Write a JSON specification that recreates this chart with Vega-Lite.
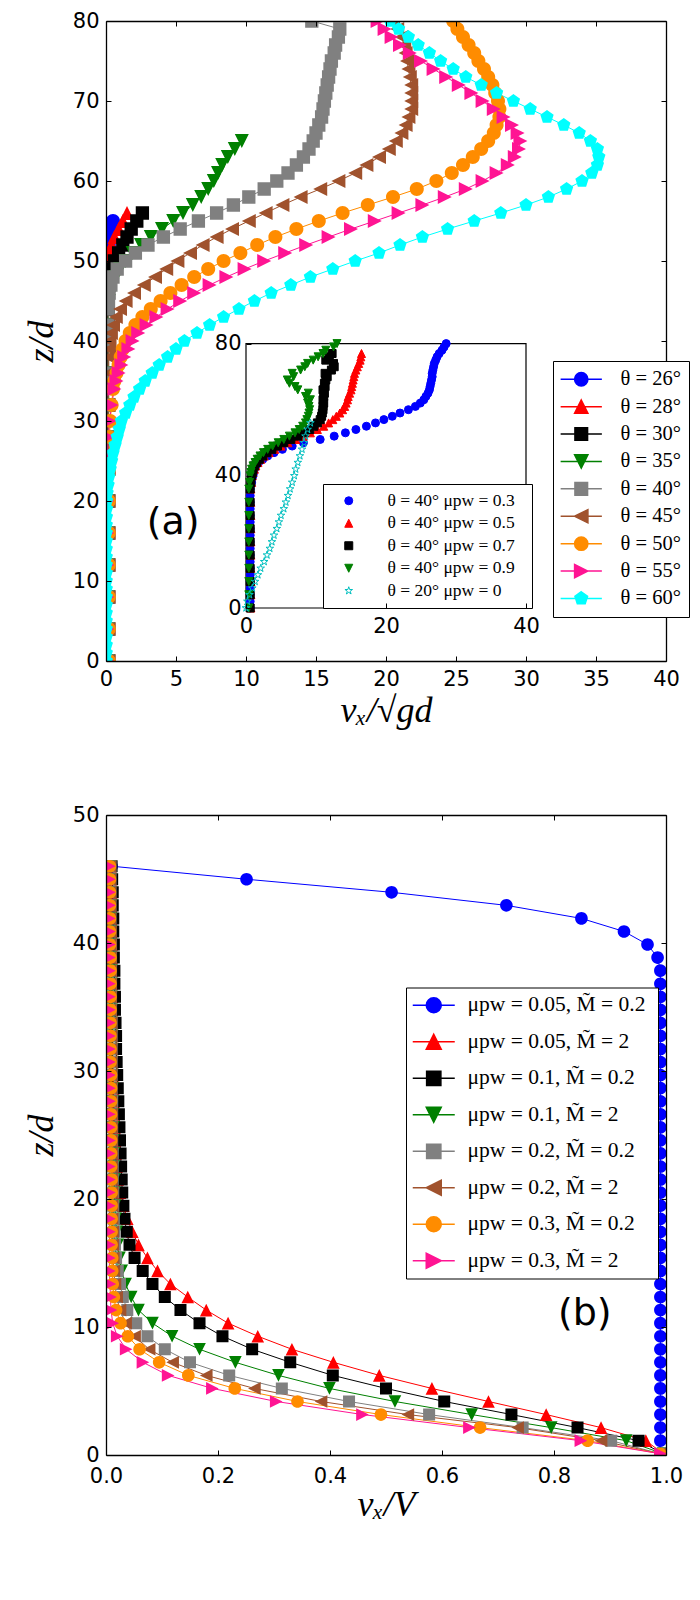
{
  "$schema": "https://vega.github.io/schema/vega-lite/v6.json",
  "background": "white",
  "padding": {"left": 23, "top": 10, "right": 0, "bottom": 0},
  "spacing": 76,
  "datasets": {
    "top": [
      {"s":"26","v":0.1,"z":0},{"s":"26","v":0.1,"z":4},{"s":"26","v":0.1,"z":8},{"s":"26","v":0.1,"z":12},{"s":"26","v":0.1,"z":16},{"s":"26","v":0.1,"z":20},{"s":"26","v":0.1,"z":24},{"s":"26","v":0.1,"z":28},{"s":"26","v":0.1,"z":32},{"s":"26","v":0.1,"z":36},{"s":"26","v":0.1,"z":40},{"s":"26","v":0.1,"z":44},{"s":"26","v":0.1,"z":46},{"s":"26","v":0.1,"z":48},{"s":"26","v":0.1,"z":49},{"s":"26","v":0.12,"z":50},{"s":"26","v":0.15,"z":51},{"s":"26","v":0.2,"z":52},{"s":"26","v":0.25,"z":53},{"s":"26","v":0.35,"z":54},{"s":"26","v":0.5,"z":55},
      {"s":"28","v":0.12,"z":0},{"s":"28","v":0.12,"z":4},{"s":"28","v":0.12,"z":8},{"s":"28","v":0.12,"z":12},{"s":"28","v":0.12,"z":16},{"s":"28","v":0.12,"z":20},{"s":"28","v":0.12,"z":24},{"s":"28","v":0.12,"z":28},{"s":"28","v":0.12,"z":32},{"s":"28","v":0.12,"z":36},{"s":"28","v":0.12,"z":40},{"s":"28","v":0.12,"z":44},{"s":"28","v":0.12,"z":46},{"s":"28","v":0.13,"z":48},{"s":"28","v":0.13,"z":49},{"s":"28","v":0.15,"z":50},{"s":"28","v":0.25,"z":51},{"s":"28","v":0.4,"z":52},{"s":"28","v":0.6,"z":53},{"s":"28","v":0.9,"z":54},{"s":"28","v":1.2,"z":55},{"s":"28","v":1.5,"z":56},
      {"s":"30","v":0.15,"z":0},{"s":"30","v":0.15,"z":4},{"s":"30","v":0.15,"z":8},{"s":"30","v":0.15,"z":12},{"s":"30","v":0.15,"z":16},{"s":"30","v":0.15,"z":20},{"s":"30","v":0.15,"z":24},{"s":"30","v":0.15,"z":28},{"s":"30","v":0.15,"z":32},{"s":"30","v":0.15,"z":36},{"s":"30","v":0.15,"z":40},{"s":"30","v":0.15,"z":42},{"s":"30","v":0.15,"z":44},{"s":"30","v":0.15,"z":45},{"s":"30","v":0.18,"z":46},{"s":"30","v":0.22,"z":47},{"s":"30","v":0.3,"z":48},{"s":"30","v":0.4,"z":49},{"s":"30","v":0.6,"z":50},{"s":"30","v":0.9,"z":51},{"s":"30","v":1.2,"z":52},{"s":"30","v":1.5,"z":53},{"s":"30","v":1.8,"z":54},{"s":"30","v":2.2,"z":55},{"s":"30","v":2.6,"z":56},
      {"s":"35","v":0.15,"z":0},{"s":"35","v":0.15,"z":4},{"s":"35","v":0.15,"z":8},{"s":"35","v":0.15,"z":12},{"s":"35","v":0.15,"z":16},{"s":"35","v":0.15,"z":20},{"s":"35","v":0.15,"z":24},{"s":"35","v":0.15,"z":28},{"s":"35","v":0.15,"z":32},{"s":"35","v":0.15,"z":36},{"s":"35","v":0.15,"z":40},{"s":"35","v":0.15,"z":42},{"s":"35","v":0.15,"z":44},{"s":"35","v":0.2,"z":45},{"s":"35","v":0.25,"z":46},{"s":"35","v":0.45,"z":47},{"s":"35","v":0.7,"z":48},{"s":"35","v":1.0,"z":49},{"s":"35","v":1.4,"z":50},{"s":"35","v":1.9,"z":51},{"s":"35","v":2.5,"z":52},{"s":"35","v":3.2,"z":53},{"s":"35","v":4.0,"z":54},{"s":"35","v":4.8,"z":55},{"s":"35","v":5.5,"z":56},{"s":"35","v":6.2,"z":57},{"s":"35","v":6.8,"z":58},{"s":"35","v":7.3,"z":59},{"s":"35","v":7.7,"z":60},{"s":"35","v":8.0,"z":61},{"s":"35","v":8.3,"z":62},{"s":"35","v":8.7,"z":63},{"s":"35","v":9.2,"z":64},{"s":"35","v":9.7,"z":65},
      {"s":"40","v":0.15,"z":0},{"s":"40","v":0.15,"z":4},{"s":"40","v":0.15,"z":8},{"s":"40","v":0.15,"z":12},{"s":"40","v":0.15,"z":16},{"s":"40","v":0.15,"z":20},{"s":"40","v":0.15,"z":24},{"s":"40","v":0.15,"z":28},{"s":"40","v":0.15,"z":32},{"s":"40","v":0.15,"z":36},{"s":"40","v":0.15,"z":40},{"s":"40","v":0.15,"z":42},{"s":"40","v":0.16,"z":44},{"s":"40","v":0.18,"z":45},{"s":"40","v":0.22,"z":46},{"s":"40","v":0.35,"z":47},{"s":"40","v":0.5,"z":48},{"s":"40","v":0.8,"z":49},{"s":"40","v":1.4,"z":50},{"s":"40","v":2.1,"z":51},{"s":"40","v":3.0,"z":52},{"s":"40","v":4.1,"z":53},{"s":"40","v":5.3,"z":54},{"s":"40","v":6.6,"z":55},{"s":"40","v":7.9,"z":56},{"s":"40","v":9.1,"z":57},{"s":"40","v":10.2,"z":58},{"s":"40","v":11.3,"z":59},{"s":"40","v":12.2,"z":60},{"s":"40","v":13.0,"z":61},{"s":"40","v":13.6,"z":62},{"s":"40","v":14.1,"z":63},{"s":"40","v":14.5,"z":64},{"s":"40","v":14.8,"z":65},{"s":"40","v":15.0,"z":66},{"s":"40","v":15.2,"z":67},{"s":"40","v":15.4,"z":68},{"s":"40","v":15.5,"z":69},{"s":"40","v":15.6,"z":70},{"s":"40","v":15.7,"z":71},{"s":"40","v":15.8,"z":72},{"s":"40","v":15.9,"z":73},{"s":"40","v":16.0,"z":74},{"s":"40","v":16.1,"z":75},{"s":"40","v":16.3,"z":76},{"s":"40","v":16.4,"z":77},{"s":"40","v":16.6,"z":78},{"s":"40","v":16.7,"z":79},{"s":"40","v":14.7,"z":80},
      {"s":"45","v":0.2,"z":0},{"s":"45","v":0.2,"z":4},{"s":"45","v":0.2,"z":8},{"s":"45","v":0.2,"z":12},{"s":"45","v":0.2,"z":16},{"s":"45","v":0.2,"z":20},{"s":"45","v":0.2,"z":24},{"s":"45","v":0.2,"z":28},{"s":"45","v":0.2,"z":32},{"s":"45","v":0.2,"z":36},{"s":"45","v":0.2,"z":38},{"s":"45","v":0.22,"z":39},{"s":"45","v":0.25,"z":40},{"s":"45","v":0.35,"z":41},{"s":"45","v":0.5,"z":42},{"s":"45","v":0.7,"z":43},{"s":"45","v":1.0,"z":44},{"s":"45","v":1.4,"z":45},{"s":"45","v":2.0,"z":46},{"s":"45","v":2.7,"z":47},{"s":"45","v":3.5,"z":48},{"s":"45","v":4.3,"z":49},{"s":"45","v":5.1,"z":50},{"s":"45","v":6.0,"z":51},{"s":"45","v":6.9,"z":52},{"s":"45","v":7.9,"z":53},{"s":"45","v":9.0,"z":54},{"s":"45","v":10.2,"z":55},{"s":"45","v":11.4,"z":56},{"s":"45","v":12.6,"z":57},{"s":"45","v":13.9,"z":58},{"s":"45","v":15.3,"z":59},{"s":"45","v":16.6,"z":60},{"s":"45","v":17.8,"z":61},{"s":"45","v":18.6,"z":62},{"s":"45","v":19.5,"z":63},{"s":"45","v":20.2,"z":64},{"s":"45","v":20.7,"z":65},{"s":"45","v":21.1,"z":66},{"s":"45","v":21.4,"z":67},{"s":"45","v":21.6,"z":68},{"s":"45","v":21.8,"z":69},{"s":"45","v":21.8,"z":70},{"s":"45","v":21.8,"z":71},{"s":"45","v":21.8,"z":72},{"s":"45","v":21.7,"z":73},{"s":"45","v":21.6,"z":74},{"s":"45","v":21.5,"z":75},{"s":"45","v":21.4,"z":76},{"s":"45","v":21.3,"z":77},{"s":"45","v":21.1,"z":78},{"s":"45","v":20.8,"z":79},{"s":"45","v":20.5,"z":80},
      {"s":"50","v":0.2,"z":0},{"s":"50","v":0.2,"z":4},{"s":"50","v":0.2,"z":8},{"s":"50","v":0.2,"z":12},{"s":"50","v":0.2,"z":16},{"s":"50","v":0.2,"z":20},{"s":"50","v":0.22,"z":24},{"s":"50","v":0.25,"z":28},{"s":"50","v":0.3,"z":30},{"s":"50","v":0.4,"z":32},{"s":"50","v":0.5,"z":34},{"s":"50","v":0.6,"z":35},{"s":"50","v":0.75,"z":36},{"s":"50","v":0.9,"z":37},{"s":"50","v":1.05,"z":38},{"s":"50","v":1.2,"z":39},{"s":"50","v":1.4,"z":40},{"s":"50","v":1.7,"z":41},{"s":"50","v":2.1,"z":42},{"s":"50","v":2.6,"z":43},{"s":"50","v":3.2,"z":44},{"s":"50","v":3.9,"z":45},{"s":"50","v":4.6,"z":46},{"s":"50","v":5.4,"z":47},{"s":"50","v":6.3,"z":48},{"s":"50","v":7.3,"z":49},{"s":"50","v":8.4,"z":50},{"s":"50","v":9.6,"z":51},{"s":"50","v":10.8,"z":52},{"s":"50","v":12.1,"z":53},{"s":"50","v":13.6,"z":54},{"s":"50","v":15.2,"z":55},{"s":"50","v":16.9,"z":56},{"s":"50","v":18.7,"z":57},{"s":"50","v":20.5,"z":58},{"s":"50","v":22.2,"z":59},{"s":"50","v":23.6,"z":60},{"s":"50","v":24.7,"z":61},{"s":"50","v":25.5,"z":62},{"s":"50","v":26.2,"z":63},{"s":"50","v":26.8,"z":64},{"s":"50","v":27.3,"z":65},{"s":"50","v":27.7,"z":66},{"s":"50","v":27.9,"z":67},{"s":"50","v":28.1,"z":68},{"s":"50","v":28.1,"z":69},{"s":"50","v":28.0,"z":70},{"s":"50","v":27.8,"z":71},{"s":"50","v":27.6,"z":72},{"s":"50","v":27.3,"z":73},{"s":"50","v":27.0,"z":74},{"s":"50","v":26.6,"z":75},{"s":"50","v":26.3,"z":76},{"s":"50","v":25.9,"z":77},{"s":"50","v":25.5,"z":78},{"s":"50","v":25.1,"z":79},{"s":"50","v":24.8,"z":80},
      {"s":"55","v":0.1,"z":0},{"s":"55","v":0.1,"z":4},{"s":"55","v":0.1,"z":8},{"s":"55","v":0.1,"z":12},{"s":"55","v":0.1,"z":16},{"s":"55","v":0.1,"z":20},{"s":"55","v":0.1,"z":24},{"s":"55","v":0.1,"z":26},{"s":"55","v":0.15,"z":28},{"s":"55","v":0.25,"z":30},{"s":"55","v":0.4,"z":32},{"s":"55","v":0.6,"z":34},{"s":"55","v":0.75,"z":35},{"s":"55","v":0.9,"z":36},{"s":"55","v":1.1,"z":37},{"s":"55","v":1.3,"z":38},{"s":"55","v":1.6,"z":39},{"s":"55","v":1.9,"z":40},{"s":"55","v":2.3,"z":41},{"s":"55","v":2.9,"z":42},{"s":"55","v":3.6,"z":43},{"s":"55","v":4.4,"z":44},{"s":"55","v":5.3,"z":45},{"s":"55","v":6.3,"z":46},{"s":"55","v":7.4,"z":47},{"s":"55","v":8.6,"z":48},{"s":"55","v":9.9,"z":49},{"s":"55","v":11.3,"z":50},{"s":"55","v":12.8,"z":51},{"s":"55","v":14.3,"z":52},{"s":"55","v":15.9,"z":53},{"s":"55","v":17.5,"z":54},{"s":"55","v":19.2,"z":55},{"s":"55","v":20.9,"z":56},{"s":"55","v":22.6,"z":57},{"s":"55","v":24.2,"z":58},{"s":"55","v":25.7,"z":59},{"s":"55","v":26.9,"z":60},{"s":"55","v":27.9,"z":61},{"s":"55","v":28.7,"z":62},{"s":"55","v":29.2,"z":63},{"s":"55","v":29.5,"z":64},{"s":"55","v":29.6,"z":65},{"s":"55","v":29.4,"z":66},{"s":"55","v":29.0,"z":67},{"s":"55","v":28.4,"z":68},{"s":"55","v":27.7,"z":69},{"s":"55","v":26.9,"z":70},{"s":"55","v":26.1,"z":71},{"s":"55","v":25.2,"z":72},{"s":"55","v":24.3,"z":73},{"s":"55","v":23.4,"z":74},{"s":"55","v":22.5,"z":75},{"s":"55","v":21.7,"z":76},{"s":"55","v":21.0,"z":77},{"s":"55","v":20.4,"z":78},{"s":"55","v":19.9,"z":79},{"s":"55","v":19.4,"z":80},
      {"s":"60","v":0.02,"z":0},{"s":"60","v":0.02,"z":1},{"s":"60","v":0.02,"z":2},{"s":"60","v":0.02,"z":3},{"s":"60","v":0.02,"z":4},{"s":"60","v":0.02,"z":5},{"s":"60","v":0.02,"z":6},{"s":"60","v":0.02,"z":7},{"s":"60","v":0.02,"z":8},{"s":"60","v":0.02,"z":9},{"s":"60","v":0.02,"z":10},{"s":"60","v":0.02,"z":11},{"s":"60","v":0.02,"z":12},{"s":"60","v":0.02,"z":13},{"s":"60","v":0.02,"z":14},{"s":"60","v":0.02,"z":15},{"s":"60","v":0.02,"z":16},{"s":"60","v":0.02,"z":17},{"s":"60","v":0.03,"z":18},{"s":"60","v":0.04,"z":19},{"s":"60","v":0.05,"z":20},{"s":"60","v":0.08,"z":21},{"s":"60","v":0.15,"z":22},{"s":"60","v":0.2,"z":23},{"s":"60","v":0.3,"z":24},{"s":"60","v":0.4,"z":25},{"s":"60","v":0.5,"z":26},{"s":"60","v":0.65,"z":27},{"s":"60","v":0.8,"z":28},{"s":"60","v":0.95,"z":29},{"s":"60","v":1.1,"z":30},{"s":"60","v":1.4,"z":31},{"s":"60","v":1.7,"z":32},{"s":"60","v":2.0,"z":33},{"s":"60","v":2.4,"z":34},{"s":"60","v":2.8,"z":35},{"s":"60","v":3.3,"z":36},{"s":"60","v":3.8,"z":37},{"s":"60","v":4.4,"z":38},{"s":"60","v":5.0,"z":39},{"s":"60","v":5.6,"z":40},{"s":"60","v":6.5,"z":41},{"s":"60","v":7.4,"z":42},{"s":"60","v":8.4,"z":43},{"s":"60","v":9.5,"z":44},{"s":"60","v":10.6,"z":45},{"s":"60","v":11.8,"z":46},{"s":"60","v":13.2,"z":47},{"s":"60","v":14.6,"z":48},{"s":"60","v":16.2,"z":49},{"s":"60","v":17.8,"z":50},{"s":"60","v":19.5,"z":51},{"s":"60","v":21.0,"z":52},{"s":"60","v":22.6,"z":53},{"s":"60","v":24.4,"z":54},{"s":"60","v":26.3,"z":55},{"s":"60","v":28.2,"z":56},{"s":"60","v":30.0,"z":57},{"s":"60","v":31.6,"z":58},{"s":"60","v":32.9,"z":59},{"s":"60","v":34.0,"z":60},{"s":"60","v":34.7,"z":61},{"s":"60","v":35.1,"z":62},{"s":"60","v":35.2,"z":63},{"s":"60","v":35.1,"z":64},{"s":"60","v":34.6,"z":65},{"s":"60","v":33.8,"z":66},{"s":"60","v":32.7,"z":67},{"s":"60","v":31.5,"z":68},{"s":"60","v":30.3,"z":69},{"s":"60","v":29.1,"z":70},{"s":"60","v":27.9,"z":71},{"s":"60","v":26.8,"z":72},{"s":"60","v":25.7,"z":73},{"s":"60","v":24.8,"z":74},{"s":"60","v":23.9,"z":75},{"s":"60","v":23.1,"z":76},{"s":"60","v":22.3,"z":77},{"s":"60","v":21.6,"z":78},{"s":"60","v":20.9,"z":79},{"s":"60","v":20.3,"z":80}
    ],
    "inset": [
      {"s":"0.3","v":0.6,"z":0},{"s":"0.3","v":0.6,"z":2},{"s":"0.3","v":0.6,"z":4},{"s":"0.3","v":0.6,"z":6},{"s":"0.3","v":0.6,"z":8},{"s":"0.3","v":0.6,"z":10},{"s":"0.3","v":0.6,"z":12},{"s":"0.3","v":0.6,"z":14},{"s":"0.3","v":0.6,"z":16},{"s":"0.3","v":0.6,"z":18},{"s":"0.3","v":0.6,"z":20},{"s":"0.3","v":0.6,"z":22},{"s":"0.3","v":0.6,"z":24},{"s":"0.3","v":0.6,"z":26},{"s":"0.3","v":0.6,"z":28},{"s":"0.3","v":0.6,"z":30},{"s":"0.3","v":0.6,"z":32},{"s":"0.3","v":0.6,"z":34},{"s":"0.3","v":0.6,"z":36},{"s":"0.3","v":0.8,"z":38},{"s":"0.3","v":1.0,"z":40},{"s":"0.3","v":1.1,"z":41},{"s":"0.3","v":1.2,"z":42},{"s":"0.3","v":1.4,"z":43},{"s":"0.3","v":1.8,"z":44},{"s":"0.3","v":2.4,"z":45},{"s":"0.3","v":3.1,"z":46},{"s":"0.3","v":4.0,"z":47},{"s":"0.3","v":5.2,"z":48},{"s":"0.3","v":6.6,"z":49},{"s":"0.3","v":8.2,"z":50},{"s":"0.3","v":10.6,"z":51},{"s":"0.3","v":12.6,"z":52},{"s":"0.3","v":14.2,"z":53},{"s":"0.3","v":15.7,"z":54},{"s":"0.3","v":17.2,"z":55},{"s":"0.3","v":18.5,"z":56},{"s":"0.3","v":19.7,"z":57},{"s":"0.3","v":20.9,"z":58},{"s":"0.3","v":22.0,"z":59},{"s":"0.3","v":23.2,"z":60},{"s":"0.3","v":24.2,"z":61},{"s":"0.3","v":24.9,"z":62},{"s":"0.3","v":25.4,"z":63},{"s":"0.3","v":25.7,"z":64},{"s":"0.3","v":26.0,"z":65},{"s":"0.3","v":26.2,"z":66},{"s":"0.3","v":26.3,"z":67},{"s":"0.3","v":26.4,"z":68},{"s":"0.3","v":26.5,"z":69},{"s":"0.3","v":26.6,"z":70},{"s":"0.3","v":26.6,"z":71},{"s":"0.3","v":26.7,"z":72},{"s":"0.3","v":26.8,"z":73},{"s":"0.3","v":26.9,"z":74},{"s":"0.3","v":27.1,"z":75},{"s":"0.3","v":27.3,"z":76},{"s":"0.3","v":27.6,"z":77},{"s":"0.3","v":28.0,"z":78},{"s":"0.3","v":28.3,"z":79},{"s":"0.3","v":28.6,"z":80},
      {"s":"0.5","v":0.7,"z":0},{"s":"0.5","v":0.7,"z":4},{"s":"0.5","v":0.7,"z":8},{"s":"0.5","v":0.7,"z":12},{"s":"0.5","v":0.7,"z":16},{"s":"0.5","v":0.7,"z":20},{"s":"0.5","v":0.7,"z":24},{"s":"0.5","v":0.7,"z":28},{"s":"0.5","v":0.7,"z":32},{"s":"0.5","v":0.7,"z":36},{"s":"0.5","v":0.8,"z":38},{"s":"0.5","v":0.9,"z":40},{"s":"0.5","v":1.0,"z":41},{"s":"0.5","v":1.2,"z":42},{"s":"0.5","v":1.4,"z":43},{"s":"0.5","v":1.7,"z":44},{"s":"0.5","v":2.1,"z":45},{"s":"0.5","v":2.6,"z":46},{"s":"0.5","v":3.3,"z":47},{"s":"0.5","v":4.1,"z":48},{"s":"0.5","v":5.0,"z":49},{"s":"0.5","v":6.0,"z":50},{"s":"0.5","v":7.1,"z":51},{"s":"0.5","v":8.2,"z":52},{"s":"0.5","v":9.2,"z":53},{"s":"0.5","v":10.2,"z":54},{"s":"0.5","v":11.1,"z":55},{"s":"0.5","v":11.8,"z":56},{"s":"0.5","v":12.4,"z":57},{"s":"0.5","v":12.9,"z":58},{"s":"0.5","v":13.4,"z":59},{"s":"0.5","v":13.8,"z":60},{"s":"0.5","v":14.1,"z":61},{"s":"0.5","v":14.3,"z":62},{"s":"0.5","v":14.5,"z":63},{"s":"0.5","v":14.6,"z":64},{"s":"0.5","v":14.8,"z":65},{"s":"0.5","v":15.0,"z":66},{"s":"0.5","v":15.1,"z":67},{"s":"0.5","v":15.2,"z":68},{"s":"0.5","v":15.3,"z":69},{"s":"0.5","v":15.4,"z":70},{"s":"0.5","v":15.5,"z":71},{"s":"0.5","v":15.7,"z":72},{"s":"0.5","v":15.9,"z":73},{"s":"0.5","v":16.1,"z":74},{"s":"0.5","v":16.3,"z":75},{"s":"0.5","v":16.4,"z":76},{"s":"0.5","v":16.5,"z":77},
      {"s":"0.7","v":0.6,"z":0},{"s":"0.7","v":0.6,"z":4},{"s":"0.7","v":0.6,"z":8},{"s":"0.7","v":0.6,"z":12},{"s":"0.7","v":0.6,"z":16},{"s":"0.7","v":0.6,"z":20},{"s":"0.7","v":0.6,"z":24},{"s":"0.7","v":0.6,"z":28},{"s":"0.7","v":0.6,"z":32},{"s":"0.7","v":0.6,"z":36},{"s":"0.7","v":0.7,"z":38},{"s":"0.7","v":0.8,"z":40},{"s":"0.7","v":0.9,"z":41},{"s":"0.7","v":1.0,"z":42},{"s":"0.7","v":1.2,"z":43},{"s":"0.7","v":1.5,"z":44},{"s":"0.7","v":1.9,"z":45},{"s":"0.7","v":2.4,"z":46},{"s":"0.7","v":3.0,"z":47},{"s":"0.7","v":3.7,"z":48},{"s":"0.7","v":4.5,"z":49},{"s":"0.7","v":5.4,"z":50},{"s":"0.7","v":6.4,"z":51},{"s":"0.7","v":7.4,"z":52},{"s":"0.7","v":8.3,"z":53},{"s":"0.7","v":9.1,"z":54},{"s":"0.7","v":9.7,"z":55},{"s":"0.7","v":10.2,"z":56},{"s":"0.7","v":10.6,"z":57},{"s":"0.7","v":10.8,"z":58},{"s":"0.7","v":10.9,"z":59},{"s":"0.7","v":11.0,"z":60},{"s":"0.7","v":11.0,"z":61},{"s":"0.7","v":11.1,"z":62},{"s":"0.7","v":11.0,"z":63},{"s":"0.7","v":11.1,"z":64},{"s":"0.7","v":11.2,"z":65},{"s":"0.7","v":11.0,"z":66},{"s":"0.7","v":11.3,"z":67},{"s":"0.7","v":11.2,"z":68},{"s":"0.7","v":11.4,"z":69},{"s":"0.7","v":11.6,"z":70},{"s":"0.7","v":11.3,"z":71},{"s":"0.7","v":12.2,"z":72},{"s":"0.7","v":12.6,"z":73},{"s":"0.7","v":12.5,"z":74},{"s":"0.7","v":11.4,"z":75},{"s":"0.7","v":11.9,"z":76},{"s":"0.7","v":12.3,"z":77},
      {"s":"0.9","v":0.4,"z":0},{"s":"0.9","v":0.4,"z":4},{"s":"0.9","v":0.4,"z":8},{"s":"0.9","v":0.4,"z":12},{"s":"0.9","v":0.4,"z":16},{"s":"0.9","v":0.4,"z":20},{"s":"0.9","v":0.4,"z":24},{"s":"0.9","v":0.4,"z":28},{"s":"0.9","v":0.4,"z":32},{"s":"0.9","v":0.4,"z":36},{"s":"0.9","v":0.5,"z":38},{"s":"0.9","v":0.6,"z":40},{"s":"0.9","v":0.7,"z":41},{"s":"0.9","v":0.8,"z":42},{"s":"0.9","v":1.0,"z":43},{"s":"0.9","v":1.3,"z":44},{"s":"0.9","v":1.6,"z":45},{"s":"0.9","v":2.0,"z":46},{"s":"0.9","v":2.5,"z":47},{"s":"0.9","v":3.1,"z":48},{"s":"0.9","v":3.8,"z":49},{"s":"0.9","v":4.6,"z":50},{"s":"0.9","v":5.4,"z":51},{"s":"0.9","v":6.2,"z":52},{"s":"0.9","v":7.0,"z":53},{"s":"0.9","v":7.6,"z":54},{"s":"0.9","v":8.1,"z":55},{"s":"0.9","v":8.5,"z":56},{"s":"0.9","v":8.7,"z":57},{"s":"0.9","v":8.9,"z":58},{"s":"0.9","v":9.0,"z":59},{"s":"0.9","v":9.1,"z":60},{"s":"0.9","v":9.0,"z":61},{"s":"0.9","v":8.8,"z":62},{"s":"0.9","v":9.2,"z":63},{"s":"0.9","v":8.5,"z":64},{"s":"0.9","v":8.9,"z":65},{"s":"0.9","v":7.4,"z":66},{"s":"0.9","v":7.0,"z":67},{"s":"0.9","v":6.2,"z":68},{"s":"0.9","v":5.9,"z":69},{"s":"0.9","v":6.8,"z":70},{"s":"0.9","v":6.6,"z":71},{"s":"0.9","v":7.8,"z":72},{"s":"0.9","v":8.4,"z":73},{"s":"0.9","v":8.8,"z":74},{"s":"0.9","v":9.6,"z":75},{"s":"0.9","v":10.3,"z":76},{"s":"0.9","v":11.0,"z":77},{"s":"0.9","v":11.4,"z":78},{"s":"0.9","v":12.5,"z":79},{"s":"0.9","v":13.0,"z":80},
      {"s":"0","v":0.0,"z":0},{"s":"0","v":0.2,"z":2},{"s":"0","v":0.5,"z":4},{"s":"0","v":0.9,"z":6},{"s":"0","v":1.3,"z":8},{"s":"0","v":1.7,"z":10},{"s":"0","v":2.1,"z":12},{"s":"0","v":2.6,"z":14},{"s":"0","v":3.0,"z":16},{"s":"0","v":3.4,"z":18},{"s":"0","v":3.7,"z":20},{"s":"0","v":4.0,"z":22},{"s":"0","v":4.4,"z":24},{"s":"0","v":4.7,"z":26},{"s":"0","v":5.0,"z":28},{"s":"0","v":5.4,"z":30},{"s":"0","v":5.7,"z":32},{"s":"0","v":6.0,"z":34},{"s":"0","v":6.3,"z":36},{"s":"0","v":6.6,"z":38},{"s":"0","v":6.9,"z":40},{"s":"0","v":7.1,"z":42},{"s":"0","v":7.4,"z":44},{"s":"0","v":7.7,"z":46},{"s":"0","v":8.0,"z":48},{"s":"0","v":8.3,"z":50},{"s":"0","v":8.5,"z":52},{"s":"0","v":8.8,"z":54},{"s":"0","v":9.2,"z":56}
    ],
    "bot": [
      {"s":"a","v":0.99,"z":0.1},{"s":"a","v":0.99,"z":1.12},{"s":"a","v":0.99,"z":2.14},{"s":"a","v":0.99,"z":3.16},{"s":"a","v":0.99,"z":4.18},{"s":"a","v":0.99,"z":5.2},{"s":"a","v":0.99,"z":6.22},{"s":"a","v":0.99,"z":7.24},{"s":"a","v":0.99,"z":8.26},{"s":"a","v":0.99,"z":9.28},{"s":"a","v":0.99,"z":10.3},{"s":"a","v":0.99,"z":11.32},{"s":"a","v":0.99,"z":12.34},{"s":"a","v":0.99,"z":13.36},{"s":"a","v":0.99,"z":14.38},{"s":"a","v":0.99,"z":15.4},{"s":"a","v":0.99,"z":16.42},{"s":"a","v":0.99,"z":17.44},{"s":"a","v":0.99,"z":18.46},{"s":"a","v":0.99,"z":19.48},{"s":"a","v":0.99,"z":20.5},{"s":"a","v":0.99,"z":21.52},{"s":"a","v":0.99,"z":22.54},{"s":"a","v":0.99,"z":23.56},{"s":"a","v":0.99,"z":24.58},{"s":"a","v":0.99,"z":25.6},{"s":"a","v":0.99,"z":26.62},{"s":"a","v":0.99,"z":27.64},{"s":"a","v":0.99,"z":28.66},{"s":"a","v":0.99,"z":29.68},{"s":"a","v":0.99,"z":30.7},{"s":"a","v":0.99,"z":31.72},{"s":"a","v":0.99,"z":32.74},{"s":"a","v":0.99,"z":33.76},{"s":"a","v":0.99,"z":34.78},{"s":"a","v":0.99,"z":35.8},{"s":"a","v":0.99,"z":36.82},{"s":"a","v":0.99,"z":37.84},{"s":"a","v":0.985,"z":38.86},{"s":"a","v":0.967,"z":39.88},{"s":"a","v":0.925,"z":40.9},{"s":"a","v":0.849,"z":41.92},{"s":"a","v":0.715,"z":42.94},{"s":"a","v":0.51,"z":43.96},{"s":"a","v":0.251,"z":44.98},{"s":"a","v":0.01,"z":46.0},
      {"s":"b","v":0.995,"z":0.1},{"s":"b","v":0.964,"z":1.12},{"s":"b","v":0.884,"z":2.14},{"s":"b","v":0.786,"z":3.16},{"s":"b","v":0.683,"z":4.18},{"s":"b","v":0.582,"z":5.2},{"s":"b","v":0.488,"z":6.22},{"s":"b","v":0.406,"z":7.24},{"s":"b","v":0.332,"z":8.26},{"s":"b","v":0.271,"z":9.28},{"s":"b","v":0.218,"z":10.3},{"s":"b","v":0.179,"z":11.32},{"s":"b","v":0.146,"z":12.34},{"s":"b","v":0.115,"z":13.36},{"s":"b","v":0.092,"z":14.38},{"s":"b","v":0.074,"z":15.4},{"s":"b","v":0.058,"z":16.42},{"s":"b","v":0.047,"z":17.44},{"s":"b","v":0.038,"z":18.46},{"s":"b","v":0.031,"z":19.48},{"s":"b","v":0.025,"z":20.5},{"s":"b","v":0.021,"z":21.52},{"s":"b","v":0.019,"z":22.54},{"s":"b","v":0.017,"z":23.56},{"s":"b","v":0.016,"z":24.58},{"s":"b","v":0.015,"z":25.6},{"s":"b","v":0.014,"z":26.62},{"s":"b","v":0.014,"z":27.64},{"s":"b","v":0.013,"z":28.66},{"s":"b","v":0.013,"z":29.68},{"s":"b","v":0.012,"z":30.7},{"s":"b","v":0.012,"z":31.72},{"s":"b","v":0.012,"z":32.74},{"s":"b","v":0.011,"z":33.76},{"s":"b","v":0.011,"z":34.78},{"s":"b","v":0.011,"z":35.8},{"s":"b","v":0.01,"z":36.82},{"s":"b","v":0.01,"z":37.84},{"s":"b","v":0.01,"z":38.86},{"s":"b","v":0.01,"z":39.88},{"s":"b","v":0.009,"z":40.9},{"s":"b","v":0.009,"z":41.92},{"s":"b","v":0.009,"z":42.94},{"s":"b","v":0.009,"z":43.96},{"s":"b","v":0.008,"z":44.98},{"s":"b","v":0.008,"z":46.0},
      {"s":"c","v":0.995,"z":0.1},{"s":"c","v":0.951,"z":1.12},{"s":"c","v":0.842,"z":2.14},{"s":"c","v":0.724,"z":3.16},{"s":"c","v":0.604,"z":4.18},{"s":"c","v":0.5,"z":5.2},{"s":"c","v":0.405,"z":6.22},{"s":"c","v":0.329,"z":7.24},{"s":"c","v":0.261,"z":8.26},{"s":"c","v":0.208,"z":9.28},{"s":"c","v":0.167,"z":10.3},{"s":"c","v":0.133,"z":11.32},{"s":"c","v":0.105,"z":12.34},{"s":"c","v":0.083,"z":13.36},{"s":"c","v":0.0655,"z":14.38},{"s":"c","v":0.051,"z":15.4},{"s":"c","v":0.042,"z":16.42},{"s":"c","v":0.037,"z":17.44},{"s":"c","v":0.033,"z":18.46},{"s":"c","v":0.031,"z":19.48},{"s":"c","v":0.029,"z":20.5},{"s":"c","v":0.028,"z":21.52},{"s":"c","v":0.027,"z":22.54},{"s":"c","v":0.026,"z":23.56},{"s":"c","v":0.025,"z":24.58},{"s":"c","v":0.024,"z":25.6},{"s":"c","v":0.023,"z":26.62},{"s":"c","v":0.022,"z":27.64},{"s":"c","v":0.021,"z":28.66},{"s":"c","v":0.02,"z":29.68},{"s":"c","v":0.019,"z":30.7},{"s":"c","v":0.018,"z":31.72},{"s":"c","v":0.018,"z":32.74},{"s":"c","v":0.017,"z":33.76},{"s":"c","v":0.016,"z":34.78},{"s":"c","v":0.016,"z":35.8},{"s":"c","v":0.015,"z":36.82},{"s":"c","v":0.015,"z":37.84},{"s":"c","v":0.014,"z":38.86},{"s":"c","v":0.014,"z":39.88},{"s":"c","v":0.013,"z":40.9},{"s":"c","v":0.013,"z":41.92},{"s":"c","v":0.012,"z":42.94},{"s":"c","v":0.012,"z":43.96},{"s":"c","v":0.011,"z":44.98},{"s":"c","v":0.01,"z":46.0},
      {"s":"d","v":0.995,"z":0.1},{"s":"d","v":0.929,"z":1.12},{"s":"d","v":0.795,"z":2.14},{"s":"d","v":0.653,"z":3.16},{"s":"d","v":0.516,"z":4.18},{"s":"d","v":0.399,"z":5.2},{"s":"d","v":0.308,"z":6.22},{"s":"d","v":0.231,"z":7.24},{"s":"d","v":0.167,"z":8.26},{"s":"d","v":0.118,"z":9.28},{"s":"d","v":0.083,"z":10.3},{"s":"d","v":0.058,"z":11.32},{"s":"d","v":0.045,"z":12.34},{"s":"d","v":0.035,"z":13.36},{"s":"d","v":0.028,"z":14.38},{"s":"d","v":0.024,"z":15.4},{"s":"d","v":0.021,"z":16.42},{"s":"d","v":0.019,"z":17.44},{"s":"d","v":0.017,"z":18.46},{"s":"d","v":0.016,"z":19.48},{"s":"d","v":0.015,"z":20.5},{"s":"d","v":0.015,"z":21.52},{"s":"d","v":0.014,"z":22.54},{"s":"d","v":0.014,"z":23.56},{"s":"d","v":0.013,"z":24.58},{"s":"d","v":0.013,"z":25.6},{"s":"d","v":0.012,"z":26.62},{"s":"d","v":0.012,"z":27.64},{"s":"d","v":0.012,"z":28.66},{"s":"d","v":0.011,"z":29.68},{"s":"d","v":0.011,"z":30.7},{"s":"d","v":0.011,"z":31.72},{"s":"d","v":0.011,"z":32.74},{"s":"d","v":0.01,"z":33.76},{"s":"d","v":0.01,"z":34.78},{"s":"d","v":0.01,"z":35.8},{"s":"d","v":0.01,"z":36.82},{"s":"d","v":0.01,"z":37.84},{"s":"d","v":0.009,"z":38.86},{"s":"d","v":0.009,"z":39.88},{"s":"d","v":0.009,"z":40.9},{"s":"d","v":0.009,"z":41.92},{"s":"d","v":0.009,"z":42.94},{"s":"d","v":0.008,"z":43.96},{"s":"d","v":0.008,"z":44.98},{"s":"d","v":0.008,"z":46.0},
      {"s":"e","v":0.99,"z":0.1},{"s":"e","v":0.902,"z":1.12},{"s":"e","v":0.744,"z":2.14},{"s":"e","v":0.577,"z":3.16},{"s":"e","v":0.434,"z":4.18},{"s":"e","v":0.314,"z":5.2},{"s":"e","v":0.22,"z":6.22},{"s":"e","v":0.15,"z":7.24},{"s":"e","v":0.105,"z":8.26},{"s":"e","v":0.074,"z":9.28},{"s":"e","v":0.054,"z":10.3},{"s":"e","v":0.038,"z":11.32},{"s":"e","v":0.03,"z":12.34},{"s":"e","v":0.025,"z":13.36},{"s":"e","v":0.021,"z":14.38},{"s":"e","v":0.018,"z":15.4},{"s":"e","v":0.016,"z":16.42},{"s":"e","v":0.015,"z":17.44},{"s":"e","v":0.014,"z":18.46},{"s":"e","v":0.013,"z":19.48},{"s":"e","v":0.013,"z":20.5},{"s":"e","v":0.012,"z":21.52},{"s":"e","v":0.012,"z":22.54},{"s":"e","v":0.012,"z":23.56},{"s":"e","v":0.011,"z":24.58},{"s":"e","v":0.011,"z":25.6},{"s":"e","v":0.011,"z":26.62},{"s":"e","v":0.011,"z":27.64},{"s":"e","v":0.01,"z":28.66},{"s":"e","v":0.01,"z":29.68},{"s":"e","v":0.01,"z":30.7},{"s":"e","v":0.01,"z":31.72},{"s":"e","v":0.01,"z":32.74},{"s":"e","v":0.01,"z":33.76},{"s":"e","v":0.009,"z":34.78},{"s":"e","v":0.009,"z":35.8},{"s":"e","v":0.009,"z":36.82},{"s":"e","v":0.009,"z":37.84},{"s":"e","v":0.009,"z":38.86},{"s":"e","v":0.009,"z":39.88},{"s":"e","v":0.008,"z":40.9},{"s":"e","v":0.008,"z":41.92},{"s":"e","v":0.008,"z":42.94},{"s":"e","v":0.008,"z":43.96},{"s":"e","v":0.008,"z":44.98},{"s":"e","v":0.008,"z":46.0},
      {"s":"f","v":0.99,"z":0.1},{"s":"f","v":0.884,"z":1.12},{"s":"f","v":0.735,"z":2.14},{"s":"f","v":0.539,"z":3.16},{"s":"f","v":0.384,"z":4.18},{"s":"f","v":0.265,"z":5.2},{"s":"f","v":0.179,"z":6.22},{"s":"f","v":0.119,"z":7.24},{"s":"f","v":0.077,"z":8.26},{"s":"f","v":0.051,"z":9.28},{"s":"f","v":0.035,"z":10.3},{"s":"f","v":0.025,"z":11.32},{"s":"f","v":0.019,"z":12.34},{"s":"f","v":0.016,"z":13.36},{"s":"f","v":0.014,"z":14.38},{"s":"f","v":0.013,"z":15.4},{"s":"f","v":0.012,"z":16.42},{"s":"f","v":0.012,"z":17.44},{"s":"f","v":0.011,"z":18.46},{"s":"f","v":0.011,"z":19.48},{"s":"f","v":0.011,"z":20.5},{"s":"f","v":0.01,"z":21.52},{"s":"f","v":0.01,"z":22.54},{"s":"f","v":0.01,"z":23.56},{"s":"f","v":0.01,"z":24.58},{"s":"f","v":0.01,"z":25.6},{"s":"f","v":0.01,"z":26.62},{"s":"f","v":0.009,"z":27.64},{"s":"f","v":0.009,"z":28.66},{"s":"f","v":0.009,"z":29.68},{"s":"f","v":0.009,"z":30.7},{"s":"f","v":0.009,"z":31.72},{"s":"f","v":0.009,"z":32.74},{"s":"f","v":0.009,"z":33.76},{"s":"f","v":0.008,"z":34.78},{"s":"f","v":0.008,"z":35.8},{"s":"f","v":0.008,"z":36.82},{"s":"f","v":0.008,"z":37.84},{"s":"f","v":0.008,"z":38.86},{"s":"f","v":0.008,"z":39.88},{"s":"f","v":0.008,"z":40.9},{"s":"f","v":0.007,"z":41.92},{"s":"f","v":0.007,"z":42.94},{"s":"f","v":0.007,"z":43.96},{"s":"f","v":0.007,"z":44.98},{"s":"f","v":0.007,"z":46.0},
      {"s":"g","v":0.99,"z":0.1},{"s":"g","v":0.86,"z":1.12},{"s":"g","v":0.668,"z":2.14},{"s":"g","v":0.491,"z":3.16},{"s":"g","v":0.342,"z":4.18},{"s":"g","v":0.23,"z":5.2},{"s":"g","v":0.147,"z":6.22},{"s":"g","v":0.095,"z":7.24},{"s":"g","v":0.06,"z":8.26},{"s":"g","v":0.039,"z":9.28},{"s":"g","v":0.026,"z":10.3},{"s":"g","v":0.018,"z":11.32},{"s":"g","v":0.014,"z":12.34},{"s":"g","v":0.012,"z":13.36},{"s":"g","v":0.011,"z":14.38},{"s":"g","v":0.011,"z":15.4},{"s":"g","v":0.01,"z":16.42},{"s":"g","v":0.01,"z":17.44},{"s":"g","v":0.01,"z":18.46},{"s":"g","v":0.01,"z":19.48},{"s":"g","v":0.01,"z":20.5},{"s":"g","v":0.01,"z":21.52},{"s":"g","v":0.009,"z":22.54},{"s":"g","v":0.009,"z":23.56},{"s":"g","v":0.009,"z":24.58},{"s":"g","v":0.009,"z":25.6},{"s":"g","v":0.009,"z":26.62},{"s":"g","v":0.009,"z":27.64},{"s":"g","v":0.009,"z":28.66},{"s":"g","v":0.009,"z":29.68},{"s":"g","v":0.008,"z":30.7},{"s":"g","v":0.008,"z":31.72},{"s":"g","v":0.008,"z":32.74},{"s":"g","v":0.008,"z":33.76},{"s":"g","v":0.008,"z":34.78},{"s":"g","v":0.008,"z":35.8},{"s":"g","v":0.008,"z":36.82},{"s":"g","v":0.008,"z":37.84},{"s":"g","v":0.008,"z":38.86},{"s":"g","v":0.007,"z":39.88},{"s":"g","v":0.007,"z":40.9},{"s":"g","v":0.007,"z":41.92},{"s":"g","v":0.007,"z":42.94},{"s":"g","v":0.007,"z":43.96},{"s":"g","v":0.007,"z":44.98},{"s":"g","v":0.007,"z":46.0},
      {"s":"h","v":0.99,"z":0.1},{"s":"h","v":0.848,"z":1.12},{"s":"h","v":0.649,"z":2.14},{"s":"h","v":0.458,"z":3.16},{"s":"h","v":0.304,"z":4.18},{"s":"h","v":0.19,"z":5.2},{"s":"h","v":0.111,"z":6.22},{"s":"h","v":0.066,"z":7.24},{"s":"h","v":0.036,"z":8.26},{"s":"h","v":0.02,"z":9.28},{"s":"h","v":0.012,"z":10.3},{"s":"h","v":0.009,"z":11.32},{"s":"h","v":0.008,"z":12.34},{"s":"h","v":0.007,"z":13.36},{"s":"h","v":0.006,"z":14.38},{"s":"h","v":0.006,"z":15.4},{"s":"h","v":0.006,"z":16.42},{"s":"h","v":0.006,"z":17.44},{"s":"h","v":0.006,"z":18.46},{"s":"h","v":0.006,"z":19.48},{"s":"h","v":0.006,"z":20.5},{"s":"h","v":0.006,"z":21.52},{"s":"h","v":0.006,"z":22.54},{"s":"h","v":0.006,"z":23.56},{"s":"h","v":0.006,"z":24.58},{"s":"h","v":0.006,"z":25.6},{"s":"h","v":0.006,"z":26.62},{"s":"h","v":0.006,"z":27.64},{"s":"h","v":0.006,"z":28.66},{"s":"h","v":0.006,"z":29.68},{"s":"h","v":0.006,"z":30.7},{"s":"h","v":0.006,"z":31.72},{"s":"h","v":0.006,"z":32.74},{"s":"h","v":0.006,"z":33.76},{"s":"h","v":0.006,"z":34.78},{"s":"h","v":0.006,"z":35.8},{"s":"h","v":0.006,"z":36.82},{"s":"h","v":0.006,"z":37.84},{"s":"h","v":0.006,"z":38.86},{"s":"h","v":0.006,"z":39.88},{"s":"h","v":0.006,"z":40.9},{"s":"h","v":0.006,"z":41.92},{"s":"h","v":0.006,"z":42.94},{"s":"h","v":0.006,"z":43.96},{"s":"h","v":0.006,"z":44.98},{"s":"h","v":0.006,"z":46.0}
    ]
  },
  "vconcat": [
    {
      "width": 560,
      "height": 640,
      "layer": [
        {
          "data": {"name": "top"},
          "layer": [
            {
              "mark": {"type": "line", "strokeWidth": 1, "clip": true},
              "encoding": {
                "x": {"field": "v", "type": "quantitative", "scale": {"domain": [0, 40]},
                      "axis": {"orient": "bottom", "values": [0,5,10,15,20,25,30,35,40], "tickSize": -5, "labelPadding": 12, "labelFlush": false, "title": "vₓ/√gd", "titlePadding": 4, "zindex": 1}},
                "y": {"field": "z", "type": "quantitative", "scale": {"domain": [0, 80]},
                      "axis": {"orient": "left", "values": [0,10,20,30,40,50,60,70,80], "tickSize": -5, "labelPadding": 12, "labelFlush": false, "title": "z/d", "titlePadding": 12, "zindex": 1}},
                "order": {"field": "z", "type": "quantitative"},
                "stroke": {"field": "s", "type": "nominal",
                           "scale": {"domain": ["26","28","30","35","40","45","50","55","60"], "range": ["#0000ff","#ff0000","#000000","#008000","#808080","#a0522d","#ff8c00","#ff1493","#00ffff"]}}
              }
            },
            {
              "mark": {"type": "point", "filled": true, "size": 196, "strokeWidth": 0, "opacity": 1, "clip": true},
              "encoding": {
                "x": {"field": "v", "type": "quantitative", "scale": {"domain": [0, 40]}},
                "y": {"field": "z", "type": "quantitative", "scale": {"domain": [0, 80]}},
                "fill": {"field": "s", "type": "nominal",
                         "scale": {"domain": ["26","28","30","35","40","45","50","55","60"], "range": ["#0000ff","#ff0000","#000000","#008000","#808080","#a0522d","#ff8c00","#ff1493","#00ffff"]},
                         "legend": {"orient": "none", "legendX": 447, "legendY": 340, "title": null, "padding": 8, "fillColor": "white", "strokeColor": "black", "symbolSize": 177, "symbolStrokeWidth": 1.5, "symbolOffset": 10, "labelOffset": 29, "rowPadding": 6.4, "labelFont": "Liberation Serif", "labelFontSize": 20.5, "labelColor": "black", "labelExpr": "'θ = ' + datum.label + '°'"}},
                "stroke": {"field": "s", "type": "nominal",
                           "scale": {"domain": ["26","28","30","35","40","45","50","55","60"], "range": ["#0000ff","#ff0000","#000000","#008000","#808080","#a0522d","#ff8c00","#ff1493","#00ffff"]}},
                "shape": {"field": "s", "type": "nominal",
                          "scale": {"domain": ["26","28","30","35","40","45","50","55","60"],
                                    "range": ["M-3.1,0H3.1M1,0A1,1,0,1,1,-1,0A1,1,0,1,1,1,0Z","M-3.1,0H3.1M0,-1L1,1L-1,1Z","M-3.1,0H3.1M-0.95,-0.95H0.95V0.95H-0.95Z","M-3.1,0H3.1M0,1L1,-1L-1,-1Z","M-3.1,0H3.1M-0.95,-0.95H0.95V0.95H-0.95Z","M-3.1,0H3.1M-1,0L1,-1L1,1Z","M-3.1,0H3.1M1,0A1,1,0,1,1,-1,0A1,1,0,1,1,1,0Z","M-3.1,0H3.1M1,0L-1,-1L-1,1Z","M-3.1,0H3.1M0,-1L0.951,-0.309L0.588,0.809L-0.588,0.809L-0.951,-0.309Z"]}}
              }
            },
            {
              "data": {"values": [{"v": 4.8, "z": 17.3, "t": "(a)"}]},
              "mark": {"type": "text", "font": "DejaVu Sans", "fontSize": 38, "color": "black"},
              "encoding": {
                "x": {"field": "v", "type": "quantitative", "scale": {"domain": [0, 40]}},
                "y": {"field": "z", "type": "quantitative", "scale": {"domain": [0, 80]}},
                "text": {"field": "t"}
              }
            }
          ]
        },
        {
          "layer": [
            {
              "data": {"values": [{"x0": 0, "x1": 40, "y0": 0, "y1": 80}]},
              "mark": {"type": "rect", "fill": "white", "stroke": "black", "strokeWidth": 1.2},
              "encoding": {
                "x": {"field": "x0", "type": "quantitative", "scale": {"domain": [0, 40], "range": [140, 420]},
                      "axis": {"orient": "bottom", "offset": -53, "values": [0, 20, 40], "domain": false, "tickSize": -5, "labelPadding": 12, "labelFlush": false, "title": null, "zindex": 2}},
                "x2": {"field": "x1"},
                "y": {"field": "y0", "type": "quantitative", "scale": {"domain": [0, 80], "range": [587, 322.6]},
                      "axis": {"orient": "left", "offset": -140, "values": [0, 40, 80], "domain": false, "tickSize": -5, "labelPadding": 10, "labelFlush": false, "title": null, "zindex": 2}},
                "y2": {"field": "y1"}
              }
            },
            {
              "data": {"name": "inset"},
              "mark": {"type": "point", "filled": true, "size": 64, "strokeWidth": 1, "opacity": 1},
              "encoding": {
                "x": {"field": "v", "type": "quantitative", "scale": {"domain": [0, 40], "range": [140, 420]}},
                "y": {"field": "z", "type": "quantitative", "scale": {"domain": [0, 80], "range": [587, 322.6]}},
                "fill": {"field": "s", "type": "nominal",
                         "scale": {"domain": ["0.3","0.5","0.7","0.9","0"], "range": ["#0000ff","#ff0000","#000000","#008000","transparent"]},
                         "legend": {"orient": "none", "legendX": 217, "legendY": 463, "title": null, "padding": 8, "fillColor": "white", "strokeColor": "black", "symbolSize": 64, "symbolStrokeWidth": 1, "symbolOffset": 9, "labelOffset": 30, "rowPadding": 3.5, "labelFont": "Liberation Serif", "labelFontSize": 17.5, "labelColor": "black", "labelExpr": "(datum.label == '0' ? 'θ = 20°' : 'θ = 40°') + '   μpw = ' + datum.label"}},
                "stroke": {"field": "s", "type": "nominal",
                           "scale": {"domain": ["0.3","0.5","0.7","0.9","0"], "range": ["#0000ff","#ff0000","#000000","#008000","#00bfbf"]}},
                "shape": {"field": "s", "type": "nominal",
                          "scale": {"domain": ["0.3","0.5","0.7","0.9","0"],
                                    "range": ["circle","M0,-1L1,1L-1,1Z","square","M0,1L1,-1L-1,-1Z","M0,-1L0.225,-0.309L0.951,-0.309L0.363,0.118L0.588,0.809L0,0.382L-0.588,0.809L-0.363,0.118L-0.951,-0.309L-0.225,-0.309Z"]}}
              }
            }
          ]
        },
        {
          "data": {"values": [{}]},
          "mark": {"type": "point", "opacity": 0},
          "encoding": {
            "x": {"datum": 0, "type": "quantitative", "scale": {"domain": [0, 40]},
                  "axis": {"orient": "top", "values": [0,5,10,15,20,25,30,35,40], "tickSize": -5, "labels": false, "title": null, "zindex": 1}},
            "y": {"datum": 0, "type": "quantitative", "scale": {"domain": [0, 80]},
                  "axis": {"orient": "right", "values": [0,10,20,30,40,50,60,70,80], "tickSize": -5, "labels": false, "title": null, "zindex": 0}}
          }
        }
      ],
      "resolve": {"scale": {"x": "independent", "y": "independent", "fill": "independent", "stroke": "independent", "shape": "independent"}}
    },
    {
      "width": 560,
      "height": 640,
      "layer": [
        {
          "data": {"name": "bot"},
          "layer": [
            {
              "mark": {"type": "line", "strokeWidth": 1, "clip": true},
              "encoding": {
                "x": {"field": "v", "type": "quantitative", "scale": {"domain": [0, 1]},
                      "axis": {"orient": "bottom", "values": [0,0.2,0.4,0.6,0.8,1], "format": ".1f", "tickSize": -5, "labelPadding": 15, "labelFlush": false, "title": "vₓ/V", "titlePadding": 1, "zindex": 1}},
                "y": {"field": "z", "type": "quantitative", "scale": {"domain": [0, 50]},
                      "axis": {"orient": "left", "values": [0,10,20,30,40,50], "tickSize": -5, "labelPadding": 12, "labelFlush": false, "title": "z/d", "titlePadding": 12, "zindex": 1}},
                "order": {"field": "z", "type": "quantitative"},
                "stroke": {"field": "s", "type": "nominal",
                           "scale": {"domain": ["a","b","c","d","e","f","g","h"], "range": ["#0000ff","#ff0000","#000000","#008000","#808080","#a0522d","#ff8c00","#ff1493"]}}
              }
            },
            {
              "mark": {"type": "point", "filled": true, "size": 160, "strokeWidth": 0, "opacity": 1, "clip": true},
              "encoding": {
                "x": {"field": "v", "type": "quantitative", "scale": {"domain": [0, 1]}},
                "y": {"field": "z", "type": "quantitative", "scale": {"domain": [0, 50]}},
                "fill": {"field": "s", "type": "nominal",
                         "scale": {"domain": ["a","b","c","d","e","f","g","h"], "range": ["#0000ff","#ff0000","#000000","#008000","#808080","#a0522d","#ff8c00","#ff1493"]},
                         "legend": {"orient": "none", "legendX": 300, "legendY": 966.5, "title": null, "padding": 7, "fillColor": "white", "strokeColor": "black", "symbolSize": 225, "symbolStrokeWidth": 1.5, "symbolOffset": 10, "labelOffset": 23, "rowPadding": 13.5, "labelFont": "Liberation Serif", "labelFontSize": 21.5, "labelColor": "black", "labelExpr": "['μpw = 0.05,  M̃ = 0.2','μpw = 0.05,  M̃ = 2','μpw = 0.1,  M̃ = 0.2','μpw = 0.1,  M̃ = 2','μpw = 0.2,  M̃ = 0.2','μpw = 0.2,  M̃ = 2','μpw = 0.3,  M̃ = 0.2','μpw = 0.3,  M̃ = 2'][indexof('abcdefgh', datum.label)]"}},
                "stroke": {"field": "s", "type": "nominal",
                           "scale": {"domain": ["a","b","c","d","e","f","g","h"], "range": ["#0000ff","#ff0000","#000000","#008000","#808080","#a0522d","#ff8c00","#ff1493"]}},
                "shape": {"field": "s", "type": "nominal",
                          "scale": {"domain": ["a","b","c","d","e","f","g","h"],
                                    "range": ["M-2.8,0H2.8M1,0A1,1,0,1,1,-1,0A1,1,0,1,1,1,0Z","M-2.8,0H2.8M0,-1L1,1L-1,1Z","M-2.8,0H2.8M-0.95,-0.95H0.95V0.95H-0.95Z","M-2.8,0H2.8M0,1L1,-1L-1,-1Z","M-2.8,0H2.8M-0.95,-0.95H0.95V0.95H-0.95Z","M-2.8,0H2.8M-1,0L1,-1L1,1Z","M-2.8,0H2.8M1,0A1,1,0,1,1,-1,0A1,1,0,1,1,1,0Z","M-2.8,0H2.8M1,0L-1,-1L-1,1Z"]}}
              }
            },
            {
              "data": {"values": [{"v": 0.855, "z": 11.0, "t": "(b)"}]},
              "mark": {"type": "text", "font": "DejaVu Sans", "fontSize": 38, "color": "black"},
              "encoding": {
                "x": {"field": "v", "type": "quantitative", "scale": {"domain": [0, 1]}},
                "y": {"field": "z", "type": "quantitative", "scale": {"domain": [0, 50]}},
                "text": {"field": "t"}
              }
            }
          ]
        },
        {
          "data": {"values": [{}]},
          "mark": {"type": "point", "opacity": 0},
          "encoding": {
            "x": {"datum": 0, "type": "quantitative", "scale": {"domain": [0, 1]},
                  "axis": {"orient": "top", "values": [0,0.2,0.4,0.6,0.8,1], "tickSize": -5, "labels": false, "title": null, "zindex": 1}},
            "y": {"datum": 0, "type": "quantitative", "scale": {"domain": [0, 50]},
                  "axis": {"orient": "right", "values": [0,10,20,30,40,50], "tickSize": -5, "labels": false, "title": null, "zindex": 1}}
          }
        }
      ],
      "resolve": {"scale": {"x": "independent", "y": "independent"}}
    }
  ],
  "config": {
    "view": {"stroke": null},
    "axis": {"grid": false, "domainColor": "black", "domainWidth": 1.3, "tickColor": "black", "tickWidth": 1, "labelFont": "DejaVu Sans", "labelFontSize": 21, "labelColor": "black", "titleFont": "Liberation Serif, DejaVu Serif", "titleFontStyle": "italic", "titleFontWeight": "normal", "titleFontSize": 36, "titleColor": "black"},
    "legend": {"labelLimit": 0}
  }
}
